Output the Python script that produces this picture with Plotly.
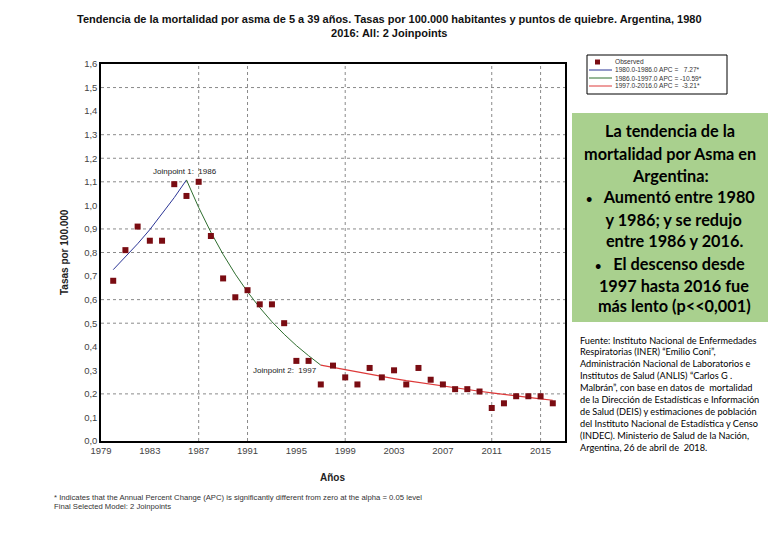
import plotly.graph_objects as go

# ---- data ----
years = list(range(1980, 2017))
observed = [0.68, 0.81, 0.91, 0.85, 0.85, 1.09, 1.04, 1.10, 0.87, 0.69,
            0.61, 0.64, 0.58, 0.58, 0.50, 0.34, 0.34, 0.24, 0.32, 0.27,
            0.24, 0.31, 0.27, 0.30, 0.24, 0.31, 0.26, 0.24, 0.22, 0.22,
            0.21, 0.14, 0.16, 0.19, 0.19, 0.19, 0.16]

seg1_years = list(range(1980, 1987))
seg1_fit = [0.727, 0.780, 0.837, 0.897, 0.963, 1.033, 1.108]
seg2_years = list(range(1986, 1998))
seg2_fit = [1.108, 0.991, 0.886, 0.792, 0.708, 0.633, 0.566, 0.506, 0.453, 0.405, 0.362, 0.322]
seg3_years = list(range(1997, 2017))
seg3_fit = [0.322, 0.312, 0.302, 0.292, 0.283, 0.274, 0.265, 0.256, 0.248, 0.240,
            0.232, 0.225, 0.218, 0.211, 0.204, 0.197, 0.191, 0.185, 0.179, 0.173]

x_ticks = list(range(1979, 2016, 4))
y_ticks = [round(i * 0.1, 1) for i in range(17)]
y_grid = [1.5, 1.3, 1.2, 1.1, 0.9, 0.8, 0.6, 0.5, 0.2]
x_grid = [1987, 1991, 1999, 2011, 2015]

legend_labels = ["Observed",
                 "1980.0-1986.0 APC =   7.27*",
                 "1986.0-1997.0 APC = -10.59*",
                 "1997.0-2016.0 APC =  -3.21*"]

title_text = ("Tendencia de la mortalidad por asma de 5 a 39 años. Tasas por 100.000 habitantes y puntos de quiebre. Argentina, 1980<br>"
              "2016: All: 2 Joinpoints")
BUL = "<span style='font-size:11px'>•</span>"
box_lines = ["La tendencia de la", "mortalidad por Asma en", "Argentina:",
             BUL + "   Aumentó entre 1980", "  y 1986; y se redujo", "  entre 1986 y 2016.",
             BUL + "   El descenso desde", "  1997 hasta 2016 fue", "  más lento (p<<0,001)"]
source_lines = ["Fuente: Instituto Nacional de Enfermedades",
                "Respiratorias (INER) \u201cEmilio Coni\u201d,",
                "Administración Nacional de Laboratorios e",
                "Institutos de Salud (ANLIS) \u201cCarlos G .",
                "Malbrán\u201d, con base en datos de  mortalidad",
                "de la Dirección de Estadísticas e Información",
                "de Salud (DEIS) y estimaciones de población",
                "del Instituto Nacional de Estadística y Censo",
                "(INDEC). Ministerio de Salud de la Nación,",
                "Argentina, 26 de abril de  2018."]
footnotes = ["* Indicates that the Annual Percent Change (APC) is significantly different from zero at the alpha = 0.05 level",
             "Final Selected Model: 2 Joinpoints"]

# ---- colours ----
C_OBS = "#7a0c12"
C1, C2, C3 = "#2b3596", "#2f6e2f", "#dd3a3a"
FN = "Liberation Sans, Arial"

# ---- layout geometry (pixels) ----
W, H = 780, 540
PL, PR, PT, PB = 101, 565, 64, 441


def px(x):
    return (x - PL) / (PR - PL)


def py(y):
    return (PB - y) / (PB - PT)


fig = go.Figure()
fig.add_trace(go.Scatter(x=seg1_years, y=seg1_fit, mode="lines",
                         line=dict(color=C1, width=1), showlegend=False))
fig.add_trace(go.Scatter(x=seg2_years, y=seg2_fit, mode="lines",
                         line=dict(color=C2, width=1), showlegend=False))
fig.add_trace(go.Scatter(x=seg3_years, y=seg3_fit, mode="lines",
                         line=dict(color=C3, width=1.2), showlegend=False))
fig.add_trace(go.Scatter(x=years, y=observed, mode="markers",
                         marker=dict(symbol="square", size=6, color=C_OBS),
                         showlegend=False))

shapes = []
for g in y_grid:
    shapes.append(dict(type="line", xref="paper", yref="y", x0=0, x1=1, y0=g, y1=g,
                       line=dict(color="#8a8a8a", width=1, dash="dot"), layer="below"))
for g in x_grid:
    shapes.append(dict(type="line", xref="x", yref="paper", x0=g, x1=g, y0=0, y1=1,
                       line=dict(color="#8a8a8a", width=1, dash="dot"), layer="below"))

# legend box
shapes.append(dict(type="rect", xref="paper", yref="paper",
                   x0=px(587), x1=px(727), y0=py(94), y1=py(55),
                   line=dict(color="black", width=1), fillcolor="white"))
ann = []
leg_y = [62, 70, 78, 86]
shapes.append(dict(type="rect", xref="paper", yref="paper",
                   x0=px(595), x1=px(600), y0=py(64.5), y1=py(59.5),
                   line=dict(width=0), fillcolor=C_OBS))
for yy, c in zip(leg_y[1:], [C1, C2, C3]):
    shapes.append(dict(type="line", xref="paper", yref="paper",
                       x0=px(589), x1=px(612), y0=py(yy), y1=py(yy),
                       line=dict(color=c, width=1)))
for yy, t in zip(leg_y, legend_labels):
    ann.append(dict(text=t, xref="paper", yref="paper", x=px(613), y=py(yy),
                    xanchor="left", yanchor="middle", showarrow=False,
                    font=dict(size=6.6, color="#333", family=FN)))

# green box
shapes.append(dict(type="rect", xref="paper", yref="paper",
                   x0=px(572), x1=px(768), y0=py(322), y1=py(113),
                   line=dict(width=0), fillcolor="#a9d08e"))
box_y = [130, 153, 175, 197, 219, 241, 263, 285, 305]
for yy, t in zip(box_y, box_lines):
    ann.append(dict(text="<b>" + t + "</b>", xref="paper", yref="paper", x=px(670), y=py(yy),
                    xanchor="center", yanchor="middle", showarrow=False,
                    font=dict(size=16.3, color="black", family="Lato, Open Sans, sans-serif")))

for i, t in enumerate(source_lines):
    ann.append(dict(text=t, xref="paper", yref="paper", x=px(578), y=py(340 + i * 11.9),
                    xanchor="left", yanchor="middle", showarrow=False,
                    font=dict(size=9.2, color="black", family="Lato, sans-serif")))

for i, t in enumerate(footnotes):
    ann.append(dict(text=t, xref="paper", yref="paper", x=px(52), y=py(497 + i * 9),
                    xanchor="left", yanchor="middle", showarrow=False,
                    font=dict(size=7.7, color="#333", family=FN)))

# axis titles
ann.append(dict(text="<b>Años</b>", xref="paper", yref="paper", x=px(332), y=py(477),
                xanchor="center", yanchor="middle", showarrow=False,
                font=dict(size=10, color="#222", family=FN)))
ann.append(dict(text="<b>Tasas por 100.000</b>", xref="paper", yref="paper", x=px(64), y=py(252),
                xanchor="center", yanchor="middle", showarrow=False, textangle=-90,
                font=dict(size=10, color="#222", family=FN)))
# title
ann.append(dict(text="<b>" + title_text + "</b>", xref="paper", yref="paper", x=px(389), y=py(26),
                xanchor="center", yanchor="middle", showarrow=False,
                font=dict(size=11, color="#111", family=FN)))

# joinpoint labels
ann.append(dict(text="Joinpoint 1:  1986", x=1985.9, y=1.142, xref="x", yref="y",
                showarrow=False, font=dict(size=8, color="#222", family=FN)))
ann.append(dict(text="Joinpoint 2:  1997", x=1994.1, y=0.30, xref="x", yref="y",
                showarrow=False, font=dict(size=8, color="#222", family=FN)))

fig.update_layout(
    width=W, height=H,
    margin=dict(l=PL, r=W - PR, t=PT, b=H - PB),
    paper_bgcolor="white", plot_bgcolor="white",
    separators=",.",
    shapes=shapes, annotations=ann,
    showlegend=False,
)
fig.update_xaxes(range=[1979, 2017], tickvals=x_ticks, showgrid=False, zeroline=False,
                 showline=True, linecolor="black", linewidth=1.5, mirror=True,
                 ticks="", ticklen=0,
                 tickfont=dict(size=9.5, color="#444", family=FN))
fig.update_yaxes(range=[0, 1.6], tickvals=y_ticks, tickformat=".1f", showgrid=False, zeroline=False,
                 showline=True, linecolor="black", linewidth=1.5, mirror=True,
                 ticks="", ticklen=0,
                 tickfont=dict(size=9.5, color="#444", family=FN))

fig.write_html("out.html")
